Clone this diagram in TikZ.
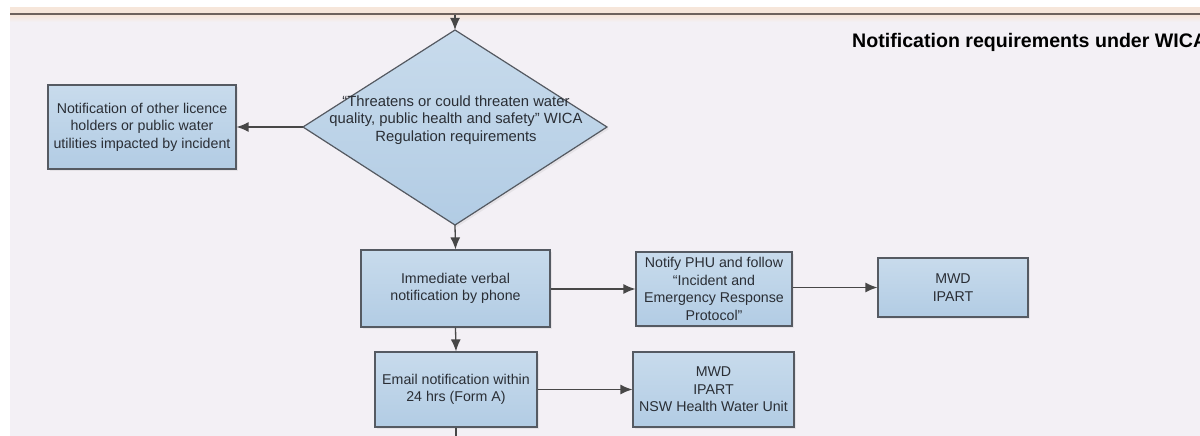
\documentclass[tikz,border=0pt]{standalone}
\usepackage{fontspec}
\setmainfont{Liberation Sans}
\usetikzlibrary{arrows.meta,shadows}
\definecolor{bgcol}{HTML}{F3F0F5}
\definecolor{peach}{HTML}{F6E6DA}
\definecolor{rulecol}{HTML}{6E625D}
\definecolor{boxtop}{HTML}{C8DBEC}
\definecolor{boxbot}{HTML}{B2CCE4}
\definecolor{boxline}{HTML}{555A62}
\definecolor{txt}{HTML}{2A2E35}
\definecolor{arr}{HTML}{474747}
\tikzset{
  flowbox/.style={draw=boxline, line width=1.2pt, top color=boxtop, bottom color=boxbot,
    rectangle, inner sep=0pt, align=center, text=txt,
    font=\fontsize{14.2}{17.5}\selectfont,
    drop shadow={opacity=0.12, shadow xshift=2pt, shadow yshift=-2pt}},
  conn/.style={draw=arr, line width=1.3pt, -{Latex[length=12pt,width=10pt]}},
  plainconn/.style={draw=arr, line width=1.3pt}
}
\begin{document}
\begin{tikzpicture}[x=1pt,y=-1pt]
\useasboundingbox (0,0) rectangle (1200,436);
% background
\fill[white] (0,0) rectangle (1200,436);
\fill[bgcol] (10,15) rectangle (1200,436);
\fill[peach] (10,7) rectangle (1200,13.5);
\shade[top color=peach, bottom color=bgcol] (10,15) rectangle (1200,22);
\fill[rulecol] (10,13.3) rectangle (1200,15.3);
% title
\node[anchor=base west, font=\fontsize{19.6}{23}\selectfont\bfseries, text=black, inner sep=0pt] (title) at (852,48) {Notification requirements under WICA};
% diamond
\coordinate (dT) at (455,30);
\coordinate (dB) at (455,225);
\coordinate (dL) at (303,127);
\coordinate (dR) at (607,127);
\filldraw[draw=boxline, line width=1.2pt, top color=boxtop, bottom color=boxbot,
  drop shadow={opacity=0.12, shadow xshift=2pt, shadow yshift=-2pt}] (dT) -- (dR) -- (dB) -- (dL) -- cycle;
\node[align=center, text=txt, font=\fontsize{14.8}{17.5}\selectfont, inner sep=0pt] (dtext) at (456,120)
  {“Threatens or could threaten water\\quality, public health and safety” WICA\\Regulation requirements};
\coordinate (topin) at (455,15.3);
% boxes
\node[flowbox, minimum width=188pt, minimum height=84pt] (other) at (142,127)
  {Notification of other licence\\holders or public water\\utilities impacted by incident};
\node[flowbox, minimum width=189pt, minimum height=77pt] (verbal) at (455.5,288.5)
  {Immediate verbal\\notification by phone};
\node[flowbox, minimum width=162pt, minimum height=75pt] (email) at (456,389.5)
  {Email notification within\\24 hrs (Form A)};
\node[flowbox, minimum width=156pt, minimum height=74pt] (phu) at (714,289)
  {Notify PHU and follow\\“Incident and\\Emergency Response\\Protocol”};
\node[flowbox, minimum width=150pt, minimum height=59pt] (mwd1) at (953,287.5)
  {MWD\\IPART};
\node[flowbox, minimum width=161pt, minimum height=75pt] (mwd2) at (713.5,389.5)
  {MWD\\IPART\\NSW Health Water Unit};
\coordinate (bottomout) at (456,436);
% connectors
\draw[conn] (topin) -- (dT);
\draw[conn] (dL) -- (other.east);
\draw[conn] (dB) -- (verbal.north);
\draw[conn] (verbal.south) -- (email.north);
\draw[conn] (verbal.east |- phu.west) -- (phu.west);
\draw[conn] (phu.east |- mwd1.west) -- (mwd1.west);
\draw[conn] (email.east) -- (mwd2.west);
\draw[plainconn] (email.south) -- (bottomout);
\end{tikzpicture}
\end{document}
